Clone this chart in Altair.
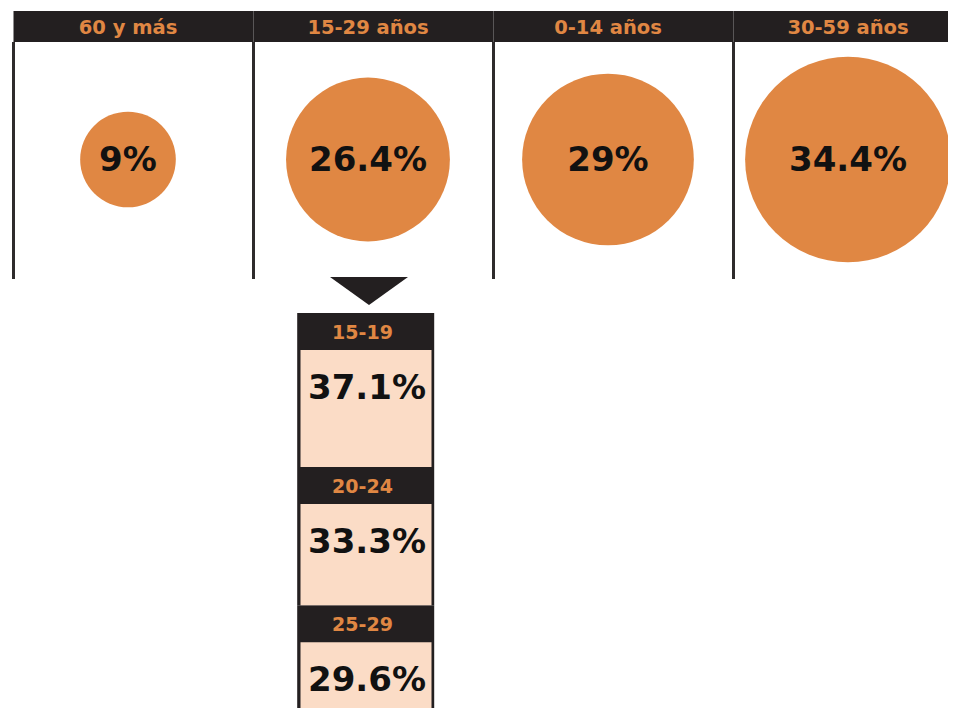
import altair as alt
import pandas as pd

# ---- data ----
grupos = ["60 y más", "15-29 años", "0-14 años", "30-59 años"]
porcentajes = [9, 26.4, 29, 34.4]

grupo_detalle = "15-29 años"
sub_grupos = ["15-19", "20-24", "25-29"]
sub_porcentajes = [37.1, 33.3, 29.6]

# ---- style ----
DARK = "#231F20"
ORANGE = "#E08743"
PINK = "#FBDCC6"
LINE = "#2E2B2C"
FONT = "DejaVu Sans"

PX_PER_UNIT = 4.15
HEADER_UNITS = 37 / PX_PER_UNIT

top = pd.DataFrame({
    "grupo": grupos,
    "valor": porcentajes,
    "etiqueta": [f"{v:g}%" for v in porcentajes],
})

inicio, acc = [], 0.0
for v in sub_porcentajes:
    inicio.append(acc)
    acc += v
sub = pd.DataFrame({
    "grupo": [grupo_detalle] * len(sub_grupos),
    "sub": sub_grupos,
    "valor": sub_porcentajes,
    "inicio": inicio,
    "fin": [s + v for s, v in zip(inicio, sub_porcentajes)],
    "etiqueta": [f"{v:g}%" for v in sub_porcentajes],
})
sub["cab_fin"] = sub["inicio"] + HEADER_UNITS

tri = pd.DataFrame({"grupo": [grupo_detalle]})

x_scale = alt.Scale(type="band", domain=grupos, range=[5.5, 965.5], paddingInner=0, paddingOuter=0)
y_scale = alt.Scale(domain=[0, 100], range=[305, 720])

BP = 0.477

header = alt.Chart(top).mark_rect(color=DARK).encode(
    x=alt.X("grupo:N", scale=x_scale, axis=None),
    y=alt.value(3), y2=alt.value(34),
)
header_text = alt.Chart(top).mark_text(
    font=FONT, fontSize=19.5, fontWeight="bold", color=ORANGE, baseline="alphabetic", align="center"
).encode(
    x=alt.X("grupo:N", bandPosition=BP, axis=None),
    y=alt.value(25.5),
    text="grupo:N",
)
rules = alt.Chart(top).mark_rule(color=LINE, strokeWidth=3).encode(
    x=alt.X("grupo:N", bandPosition=0, axis=None),
    y=alt.value(34), y2=alt.value(271),
)
circles = alt.Chart(top).mark_circle(color=ORANGE, opacity=1).encode(
    x=alt.X("grupo:N", bandPosition=BP, axis=None),
    y=alt.value(151.5),
    size=alt.Size("valor:Q", scale=alt.Scale(domain=[0, 29, 34.4], range=[0, 29480, 42310]), legend=None),
)
circle_text = alt.Chart(top).mark_text(
    font=FONT, fontSize=34, fontWeight="bold", color="#111111", baseline="alphabetic", align="center"
).encode(
    x=alt.X("grupo:N", bandPosition=BP, axis=None),
    y=alt.value(163),
    text="etiqueta:N",
)
triangle = alt.Chart(tri).mark_point(
    shape="M-1,-0.359L1,-0.359L0,0.359Z", size=6084, filled=True, fill=DARK, strokeWidth=0, opacity=1, xOffset=-4.5
).encode(
    x=alt.X("grupo:N", axis=None),
    y=alt.value(283),
)
blocks = alt.Chart(sub).mark_bar(color=DARK, width=137, xOffset=-7.8).encode(
    x=alt.X("grupo:N", axis=None),
    y=alt.Y("inicio:Q", scale=y_scale, axis=None),
    y2="fin:Q",
)
pinks = alt.Chart(sub).mark_bar(color=PINK, width=131, xOffset=-7.5).encode(
    x=alt.X("grupo:N", axis=None),
    y=alt.Y("cab_fin:Q", axis=None),
    y2="fin:Q",
)
sub_head = alt.Chart(sub).mark_text(
    font=FONT, fontSize=19, fontWeight="bold", color=ORANGE, baseline="alphabetic", align="center", dy=26, dx=-11
).encode(
    x=alt.X("grupo:N", axis=None),
    y=alt.Y("inicio:Q", axis=None),
    text="sub:N",
)
sub_val = alt.Chart(sub).mark_text(
    font=FONT, fontSize=34, fontWeight="bold", color="#111111", baseline="alphabetic", align="center", dy=86, dx=-6.5
).encode(
    x=alt.X("grupo:N", axis=None),
    y=alt.Y("inicio:Q", axis=None),
    text="etiqueta:N",
)

chart = alt.layer(
    header, header_text, rules, circles, circle_text, triangle, blocks, pinks, sub_head, sub_val
).properties(
    width=940, height=700, padding=0, autosize=alt.AutoSizeParams(type="none"), background="white"
).configure_view(strokeWidth=0)

chart.save("out.html", embed_options={"renderer": "svg", "actions": False})
